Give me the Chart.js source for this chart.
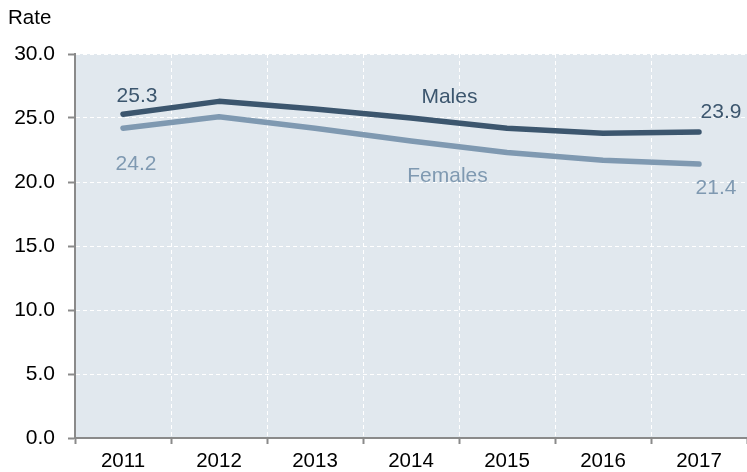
<!DOCTYPE html>
<html>
<head>
<meta charset="utf-8">
<script src="https://cdn.jsdelivr.net/npm/chart.js@4"></script>
<style>
html,body{margin:0;padding:0;background:#fff;}
#wrap{width:747px;height:472px;position:relative;}
</style>
</head>
<body>
<div id="wrap"><canvas id="c" width="747" height="472"></canvas></div>
<script>
const years = ['2011','2012','2013','2014','2015','2016','2017'];
const males = [25.3, 26.3, 25.7, 25.0, 24.2, 23.8, 23.9];
const females = [24.2, 25.1, 24.2, 23.2, 22.3, 21.7, 21.4];
const yTicks = [0, 5, 10, 15, 20, 25, 30];
const axisTitle = 'Rate';
const seriesNames = ['Males', 'Females'];

const MALE_C = '#3c566e';
const FEMALE_C = '#7f99b1';
const BG = '#e1e8ee';
const AXIS_C = '#8a8a8a';
const FONT = '"Liberation Sans", Arial, sans-serif';

const bgPlugin = {
  id: 'bg',
  beforeDraw(chart) {
    const {ctx, chartArea: a} = chart;
    ctx.save();
    ctx.fillStyle = BG;
    ctx.fillRect(a.left, a.top, a.right - a.left, a.bottom - a.top);
    ctx.restore();
  }
};

const labelPlugin = {
  id: 'labels',
  afterDatasetsDraw(chart) {
    const {ctx} = chart;
    const x = chart.scales.x, y = chart.scales.y;
    ctx.save();
    ctx.font = '21px ' + FONT;
    ctx.textAlign = 'center';
    ctx.textBaseline = 'middle';
    const last = years.length - 1;
    // Males
    ctx.fillStyle = MALE_C;
    ctx.fillText(males[0].toFixed(1), x.getPixelForValue(0) + 14, y.getPixelForValue(males[0]) - 18);
    ctx.fillText(males[last].toFixed(1), x.getPixelForValue(last) + 22, y.getPixelForValue(males[last]) - 20);
    ctx.fillText(seriesNames[0], x.getPixelForValue(3.4), y.getPixelForValue(males[3]) - 21);
    // Females
    ctx.fillStyle = FEMALE_C;
    ctx.fillText(females[0].toFixed(1), x.getPixelForValue(0) + 13, y.getPixelForValue(females[0]) + 36);
    ctx.fillText(females[last].toFixed(1), x.getPixelForValue(last) + 17, y.getPixelForValue(females[last]) + 24);
    ctx.fillText(seriesNames[1], x.getPixelForValue(3.38), y.getPixelForValue(females[3]) + 35);
    // axis title
    ctx.fillStyle = '#000';
    ctx.textAlign = 'left';
    ctx.font = '20.5px ' + FONT;
    ctx.fillText(axisTitle, 8, 18);
    ctx.restore();
  }
};

new Chart(document.getElementById('c'), {
  type: 'line',
  data: {
    labels: years,
    datasets: [
      {label: seriesNames[0], data: males, borderColor: MALE_C, borderWidth: 5.5, pointRadius: 0, tension: 0, borderCapStyle: 'round', borderJoinStyle: 'round', fill: false},
      {label: seriesNames[1], data: females, borderColor: FEMALE_C, borderWidth: 5.5, pointRadius: 0, tension: 0, borderCapStyle: 'round', borderJoinStyle: 'round', fill: false}
    ]
  },
  options: {
    responsive: false,
    animation: false,
    devicePixelRatio: 1,
    layout: {padding: {top: 54, right: 0, left: 0, bottom: 0}},
    plugins: {legend: {display: false}, tooltip: {enabled: false}},
    scales: {
      x: {
        offset: true,
        grid: {offset: true, color: '#ffffff', lineWidth: 1, tickColor: AXIS_C, tickLength: 6, tickWidth: 2, drawTicks: true},
        border: {color: AXIS_C, width: 2, dash: [4, 3]},
        ticks: {color: '#000', font: {size: 20.5, family: FONT}, padding: 5, maxRotation: 0, autoSkip: false},
        afterFit(s) { s.height = 34; }
      },
      y: {
        min: 0, max: 30,
        afterBuildTicks(s) { s.ticks = yTicks.map(v => ({value: v})); },
        grid: {color: '#ffffff', lineWidth: 1, tickColor: AXIS_C, tickLength: 7, tickWidth: 2},
        border: {color: AXIS_C, width: 2, dash: [4, 3]},
        ticks: {color: '#000', font: {size: 21, family: FONT}, padding: 13, callback: v => Number(v).toFixed(1)},
        afterFit(s) { s.width = 75; }
      }
    }
  },
  plugins: [bgPlugin, labelPlugin]
});
</script>
</body>
</html>
